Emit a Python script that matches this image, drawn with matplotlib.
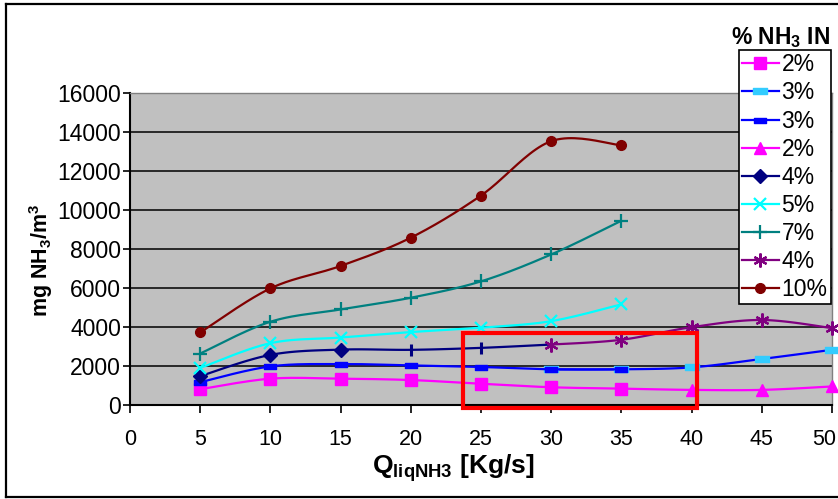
import numpy as np
import matplotlib
matplotlib.use("Agg")
import matplotlib.pyplot as plt
from matplotlib.lines import Line2D
from matplotlib.patches import Rectangle
from matplotlib.path import Path
from matplotlib.transforms import ScaledTranslation

plt.rcParams['font.family'] = ['Liberation Sans', 'DejaVu Sans']
plt.rcParams['mathtext.fontset'] = 'custom'
plt.rcParams['mathtext.rm'] = 'Liberation Sans'
plt.rcParams['mathtext.bf'] = 'Liberation Sans:bold'
plt.rcParams['mathtext.it'] = 'Liberation Sans:italic'

# ---------------- data ----------------
x_ticks = [0, 5, 10, 15, 20, 25, 30, 35, 40, 45, 50]
x_tick_labels = ['0', '5', '10', '15', '20', '25', '30', '35', '40', '45', '50']
y_ticks = [0, 2000, 4000, 6000, 8000, 10000, 12000, 14000, 16000]
y_tick_labels = ['0', '2000', '4000', '6000', '8000', '10000', '12000', '14000', '16000']

legend_title = '% NH$_\\mathbf{3}$ IN'
series_labels = ['2%', '3%', '3%', '2%', '4%', '5%', '7%', '4%', '10%']

# series 1: 2% (magenta squares)
s1_x = [5, 10, 15, 20, 25, 30, 35]
s1_y = [810, 1350, 1350, 1280, 1090, 910, 840]
# series 2: 3% (light-blue markers)
s2_x = [30, 35, 40, 45, 50]
s2_y = [1830, 1830, 1930, 2360, 2830]
# series 3: 3% (blue small markers)
s3_x = [5, 10, 15, 20, 25, 30, 35]
s3_y = [1170, 1980, 2100, 2030, 1950, 1830, 1830]
# series 4: 2% (magenta triangles), first point joins series 1
s4_x = [35, 40, 45, 50]
s4_y = [840, 775, 775, 950]
# series 5: 4% (navy diamonds)
s5_x = [5, 10, 15, 20, 25, 30]
s5_y = [1480, 2570, 2840, 2830, 2930, 3100]
# series 6: 5% (cyan x)
s6_x = [5, 10, 15, 20, 25, 30, 35]
s6_y = [1900, 3170, 3460, 3740, 3965, 4300, 5160]
# series 7: 7% (teal +)
s7_x = [5, 10, 15, 20, 25, 30, 35]
s7_y = [2640, 4270, 4900, 5500, 6340, 7720, 9450]
# series 8: 4% (purple asterisk)
s8_x = [30, 35, 40, 45, 50]
s8_y = [3100, 3345, 3990, 4360, 3945]
# series 9: 10% (dark red dots)
s9_x = [5, 10, 15, 20, 25, 30, 35]
s9_y = [3720, 5980, 7130, 8580, 10740, 13530, 13320]

# highlighted region (annotation box)
box_x = [23.75, 40.35]
box_y = [-170, 3710]


def smooth(xs, ys, n=24):
    """Excel-like smoothed line (Catmull-Rom Bezier)."""
    P = np.column_stack([xs, ys]).astype(float)
    m = len(P)
    if m < 3:
        return P[:, 0], P[:, 1]
    out = [P[0]]
    for i in range(m - 1):
        p0 = P[i - 1] if i > 0 else P[i]
        p1 = P[i]
        p2 = P[i + 1]
        p3 = P[i + 2] if i + 2 < m else P[i + 1]
        b1 = p1 + (p2 - p0) / 6.0
        b2 = p2 - (p3 - p1) / 6.0
        t = np.linspace(0, 1, n)[1:, None]
        pts = ((1 - t) ** 3) * p1 + 3 * ((1 - t) ** 2) * t * b1 + 3 * (1 - t) * t ** 2 * b2 + t ** 3 * p2
        out.extend(pts)
    out = np.array(out)
    return out[:, 0], out[:, 1]


rect_marker = Path([(-1, -0.45), (1, -0.45), (1, 0.45), (-1, 0.45), (-1, -0.45)],
                   [Path.MOVETO, Path.LINETO, Path.LINETO, Path.LINETO, Path.CLOSEPOLY])

# style per series: line colour, marker, face colour, edge colour, size, mew, marker indices
styles = [
    dict(x=s1_x, y=s1_y, lc='#FF00FF', m='s', fc='#FF00FF', ec='#FF00FF', ms=8, mew=1, idx=None),
    dict(x=s2_x, y=s2_y, lc='#0000FF', m=rect_marker, fc='#33CCFF', ec='#33CCFF', ms=10, mew=1, idx=None),
    dict(x=s3_x, y=s3_y, lc='#0000FF', m=rect_marker, fc='#0000FF', ec='#0000FF', ms=8, mew=1, idx=None),
    dict(x=s4_x, y=s4_y, lc='#FF00FF', m='^', fc='#FF00FF', ec='#FF00FF', ms=9, mew=1, idx=[1, 2, 3]),
    dict(x=s5_x, y=s5_y, lc='#000080', m='D', fc='#000080', ec='#000080', ms=7, mew=1, idx=[0, 1, 2]),
    dict(x=s6_x, y=s6_y, lc='#00FFFF', m='x', fc='#00FFFF', ec='#00FFFF', ms=9, mew=1.6, idx=None),
    dict(x=s7_x, y=s7_y, lc='#008080', m='+', fc='#008080', ec='#008080', ms=10, mew=1.6, idx=None),
    dict(x=s8_x, y=s8_y, lc='#800080', m=(6, 2, 0), fc='#800080', ec='#800080', ms=10, mew=1.6, idx=None),
    dict(x=s9_x, y=s9_y, lc='#800000', m='o', fc='#800000', ec='#800000', ms=7, mew=1, idx=None),
]

fig = plt.figure(figsize=(8.38, 4.99), dpi=100)
W, H = 838.0, 499.0
ax = fig.add_axes([130 / W, 1 - 405 / H, (832 - 130) / W, (405 - 93) / H])
ax.set_facecolor('#C0C0C0')
ax.set_xlim(0, 50)
ax.set_ylim(0, 16000)

ax.set_xticks(x_ticks)
ax.set_xticklabels(x_tick_labels)
ax.set_yticks(y_ticks)
ax.set_yticklabels(y_tick_labels)
ax.tick_params(axis='x', direction='out', length=6, width=1.2, pad=11, labelsize=15.5, colors='black')
ax.tick_params(axis='y', direction='out', length=5, width=1.2, pad=1.5, labelsize=16.5, colors='black')
ax.yaxis.grid(True, color='black', lw=1.1)
ax.set_axisbelow(True)
for side in ['left', 'bottom']:
    ax.spines[side].set_color('black')
    ax.spines[side].set_linewidth(1.5)
for side in ['top', 'right']:
    ax.spines[side].set_color('#808080')
    ax.spines[side].set_linewidth(1.0)

# keep the last x tick label inside the figure
last_lbl = ax.get_xticklabels()[-1]
last_lbl.set_transform(last_lbl.get_transform() + ScaledTranslation(-8 / 100, 0, fig.dpi_scale_trans))

handles = []
for k, st in enumerate(styles):
    sx, sy = smooth(st['x'], st['y'])
    ax.plot(sx, sy, color=st['lc'], lw=1.6, zorder=3 + k, solid_capstyle='round')
    idx = st['idx'] if st['idx'] is not None else list(range(len(st['x'])))
    mx = [st['x'][i] for i in idx]
    my = [st['y'][i] for i in idx]
    ax.plot(mx, my, linestyle='none', marker=st['m'], ms=st['ms'], mfc=st['fc'],
            mec=st['ec'], mew=st['mew'], zorder=3 + k, clip_on=False)
    handles.append(Line2D([], [], color=st['lc'], lw=1.6, marker=st['m'], ms=st['ms'],
                          mfc=st['fc'], mec=st['ec'], mew=st['mew']))

# extra '|' markers on the navy series
ax.plot([s5_x[3], s5_x[4]], [s5_y[3], s5_y[4]], linestyle='none', marker='|', ms=9, mew=2.2,
        color='#000080', zorder=8)

# red highlight rectangle
ax.add_patch(Rectangle((box_x[0], box_y[0]), box_x[1] - box_x[0], box_y[1] - box_y[0],
                       fill=False, edgecolor='#FF0000', lw=3, zorder=20, clip_on=False))

leg = fig.legend(handles, series_labels, loc='upper right',
                 bbox_to_anchor=(831 / W, 1 - 50 / H), bbox_transform=fig.transFigure,
                 fontsize=16.5, frameon=True, fancybox=False, shadow=False,
                 handlelength=1.6, handletextpad=0.12, labelspacing=0.22,
                 borderpad=0.15, borderaxespad=0.0, numpoints=1)
leg.get_frame().set_edgecolor('black')
leg.get_frame().set_linewidth(1.2)
leg.get_frame().set_facecolor('white')
leg.get_frame().set_alpha(1)
leg.set_zorder(30)

fig.text(830 / W, 1 - 38 / H, legend_title, ha='right', va='center', fontsize=16.5, fontweight='bold')

fig.text(41 / W, 1 - 260 / H, 'mg NH$_\\mathbf{3}$/m$^\\mathbf{3}$', rotation=90, ha='center',
         va='center', fontsize=15.5, fontweight='bold')
fig.text(453 / W, 1 - 468 / H, 'Q$_\\mathbf{liqNH3}$ [Kg/s]', ha='center', va='center',
         fontsize=19, fontweight='bold')

# outer border
for xs_, ys_ in [([6 / W, 6 / W], [1 - 497 / H, 1 - 4 / H]),
                 ([6 / W, 1.01], [1 - 4 / H, 1 - 4 / H]),
                 ([6 / W, 1.01], [1 - 497 / H, 1 - 497 / H])]:
    fig.add_artist(Line2D(xs_, ys_, color='black', lw=1.6, transform=fig.transFigure))

fig.savefig('out.png', dpi=100)
